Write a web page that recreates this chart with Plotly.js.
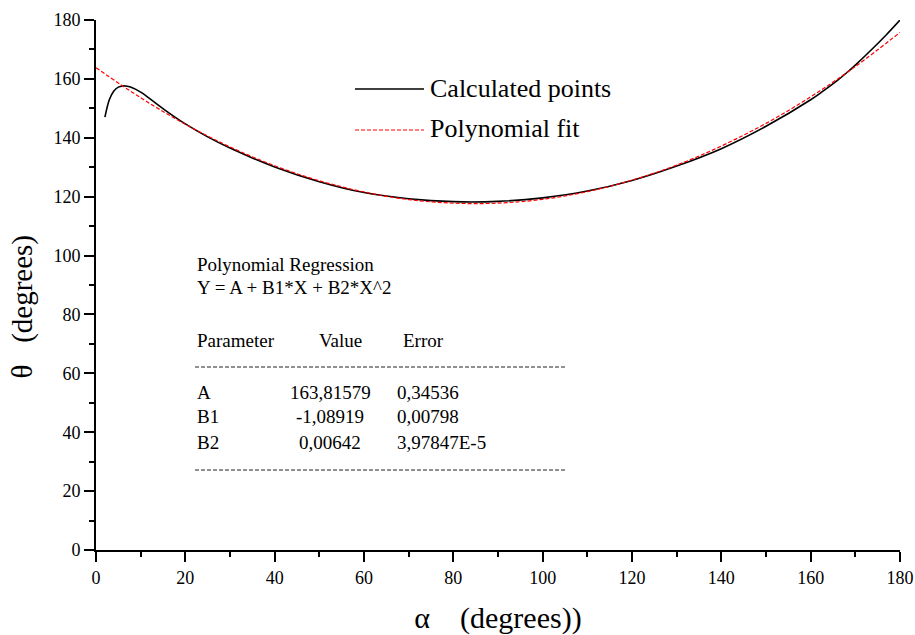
<!DOCTYPE html>
<html>
<head>
<meta charset="utf-8">
<script src="https://cdn.plot.ly/plotly-3.0.1.min.js"></script>
<style>html,body{margin:0;padding:0;background:#fff;}#chart{width:915px;height:635px;}</style>
</head>
<body>
<div id="chart"></div>
<script>
// Calculated points (black solid line)
const calcAlpha = [2, 3, 4, 5, 6, 7, 8, 10, 13, 16, 20, 25, 30, 40, 50, 60, 70, 80, 90, 100, 110, 120, 130, 140, 150, 160, 163, 166, 168, 170, 174, 177, 180];
const calcTheta = [147.0, 153.0, 155.9, 157.2, 157.6, 157.5, 157.1, 155.5, 152.2, 148.8, 144.7, 140.3, 136.5, 130.1, 125.1, 121.4, 119.3, 118.3, 118.4, 119.6, 121.9, 125.5, 130.4, 136.3, 143.9, 152.9, 156.1, 159.5, 162.0, 164.7, 170.5, 175.1, 180.0];

// Polynomial fit (red dashed line)
const fitAlpha = [0, 10, 20, 30, 40, 50, 60, 70, 80, 90, 100, 110, 120, 130, 140, 150, 160, 170, 180];
const fitTheta = [163.8, 153.6, 144.6, 136.9, 130.5, 125.4, 121.6, 119.0, 117.8, 117.8, 119.1, 121.7, 125.6, 130.7, 137.2, 144.9, 153.9, 164.2, 175.8];

// Tick values
const xTicks = [0, 20, 40, 60, 80, 100, 120, 140, 160, 180];
const yTicks = [0, 20, 40, 60, 80, 100, 120, 140, 160, 180];

// Series names
const seriesNames = ["Calculated points", "Polynomial fit"];

// Regression table text
const regTitle = "Polynomial Regression";
const regEquation = "Y = A + B1*X + B2*X^2";
const tableHeader = ["Parameter", "Value", "Error"];
const paramNames = ["A", "B1", "B2"];
const paramValues = ["163,81579", "-1,08919", "0,00642"];
const paramErrors = ["0,34536", "0,00798", "3,97847E-5"];

// ---- layout helpers (pixel -> paper) ----
const L = 96, R = 15, T = 20, B = 85, W = 915, H = 635;
const PW = W - L - R, PH = H - T - B;
const px = x => (x - L) / PW;
const py = y => (H - B - y) / PH;

const FONT = "'Liberation Serif', 'Times New Roman', Times, serif";
const NB = "\u00a0";

const traces = [
  { x: calcAlpha, y: calcTheta, type: "scatter", mode: "lines", name: seriesNames[0],
    line: { color: "#000000", width: 1.6, shape: "spline", smoothing: 1 }, showlegend: false },
  { x: fitAlpha, y: fitTheta, type: "scatter", mode: "lines", name: seriesNames[1],
    line: { color: "#ff0000", width: 1.2, dash: "4px,2px", shape: "spline", smoothing: 1 }, showlegend: false }
];

const ann = [];
const txt = (text, x, y, anchor, size) => ann.push({
  text: text, xref: "paper", yref: "paper", x: px(x), y: py(y),
  xanchor: anchor || "left", yanchor: "middle", showarrow: false,
  font: { family: FONT, size: size || 19, color: "#000" }
});
// legend labels
txt(seriesNames[0], 428, 89, "left", 26);
txt(seriesNames[1], 428, 129, "left", 26);
// regression block
txt(regTitle, 195, 264);
txt(regEquation, 195, 287);
txt(tableHeader[0], 195, 340);
txt(tableHeader[1], 340, 340, "center");
txt(tableHeader[2], 401, 340);
const rowY = [392, 417, 442];
for (let i = 0; i < 3; i++) {
  txt(paramNames[i], 195, rowY[i]);
  txt(paramValues[i], 330, rowY[i], "center");
  txt(paramErrors[i], 395, rowY[i]);
}

const shapes = [
  { type: "line", xref: "paper", yref: "paper", x0: px(355), x1: px(424), y0: py(89), y1: py(89),
    line: { color: "#000", width: 1.6 } },
  { type: "line", xref: "paper", yref: "paper", x0: px(355), x1: px(424), y0: py(130), y1: py(130),
    line: { color: "#ff0000", width: 1.2, dash: "4px,2px" } },
  { type: "line", xref: "paper", yref: "paper", x0: px(195), x1: px(567), y0: py(367), y1: py(367),
    line: { color: "#222", width: 1, dash: "4px,2px" } },
  { type: "line", xref: "paper", yref: "paper", x0: px(195), x1: px(567), y0: py(470), y1: py(470),
    line: { color: "#222", width: 1, dash: "4px,2px" } }
];

const axisCommon = {
  showgrid: false, zeroline: false, showline: true, linecolor: "#000", linewidth: 2,
  ticks: "outside", ticklen: 10, tickwidth: 2, tickcolor: "#000",
  minor: { dtick: 10, ticks: "outside", ticklen: 5, tickwidth: 2, tickcolor: "#000", showgrid: false },
  tickfont: { family: FONT, size: 18, color: "#000" },
  range: [0, 180], autorange: false, fixedrange: true
};

const layout = {
  width: W, height: H,
  margin: { l: L, r: R, t: T, b: B, pad: 0 },
  paper_bgcolor: "#fff", plot_bgcolor: "#fff",
  showlegend: false,
  xaxis: Object.assign({}, axisCommon, {
    tickmode: "array", tickvals: xTicks, ticktext: xTicks.map(String),
    title: { text: "α" + NB + NB + NB + NB + "(degrees))", font: { family: FONT, size: 30, color: "#000" }, standoff: 24 }
  }),
  yaxis: Object.assign({}, axisCommon, {
    tickmode: "array", tickvals: yTicks, ticktext: yTicks.map(String),
    title: { text: "θ" + NB + NB + NB + "(degrees)<span>" + NB.repeat(6) + "</span>", font: { family: FONT, size: 29, color: "#000" }, standoff: 12 }
  }),
  annotations: ann,
  shapes: shapes
};

Plotly.newPlot("chart", traces, layout, { staticPlot: true, displayModeBar: false });
</script>
</body>
</html>
